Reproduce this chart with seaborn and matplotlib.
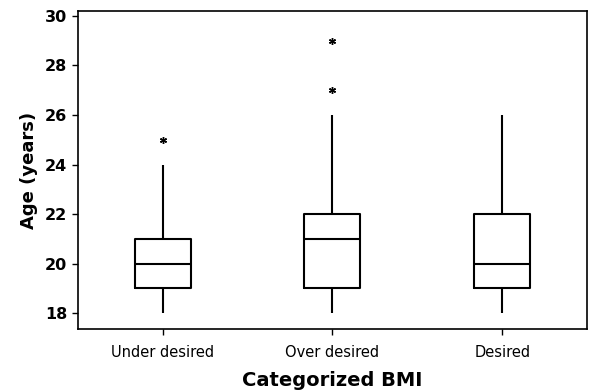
import numpy as np
import pandas as pd
import seaborn as sns
import matplotlib.pyplot as plt

# BMI categories, in plotting order
categories = ["Under desired", "Over desired", "Desired"]

# ages (years) per group
age_under = [18, 19, 19, 19, 19, 19, 20, 20, 20, 20, 20,
             21, 21, 21, 21, 21, 22, 23, 24, 25]
age_over = [18, 19, 19, 19, 19, 19, 19, 20, 20, 20, 21, 21, 21, 21,
            22, 22, 22, 22, 22, 23, 24, 25, 26, 27, 29]
age_desired = [18, 19, 19, 19, 19, 19, 19, 20, 20, 20, 20, 20,
               21, 21, 22, 22, 22, 22, 22, 23, 24, 25, 26]

df = pd.DataFrame({
    "bmi": [categories[0]] * len(age_under)
           + [categories[1]] * len(age_over)
           + [categories[2]] * len(age_desired),
    "age": age_under + age_over + age_desired,
})

sns.set_theme(style="white")
plt.rcParams['font.family'] = ['DejaVu Sans']
plt.rcParams['text.color'] = 'black'
plt.rcParams['axes.labelcolor'] = 'black'
plt.rcParams['xtick.color'] = 'black'
plt.rcParams['ytick.color'] = 'black'

fig, ax = plt.subplots(figsize=(5.9, 3.92), dpi=100)

line = {"color": "black", "linewidth": 1.5}
sns.boxplot(data=df, x="bmi", y="age", order=categories, width=0.33,
            whis=1.5, showcaps=False, fill=False, linecolor="black",
            boxprops=line, whiskerprops=line, medianprops=line,
            flierprops={"marker": (6, 2, 0), "markersize": 5,
                        "markeredgewidth": 1.0,
                        "markerfacecolor": "black", "markeredgecolor": "black"},
            ax=ax)

ax.set_xlim(-0.5, 2.5)
ax.set_ylim(17.35, 30.2)
ax.set_yticks([18, 20, 22, 24, 26, 28, 30])

for s in ax.spines.values():
    s.set_visible(True)
    s.set_color("black")
    s.set_linewidth(1.2)

ax.tick_params(axis="both", direction="out", length=4, width=1, color="black",
               bottom=True, left=True)
ax.tick_params(axis="y", labelsize=11.5)
ax.tick_params(axis="x", labelsize=10.5, pad=7)
for lab in ax.get_yticklabels():
    lab.set_fontweight("bold")

ax.set_xlabel("Categorized BMI", fontsize=14, fontweight="bold", labelpad=8)
ax.set_ylabel("Age (years)", fontsize=13, fontweight="bold", labelpad=5)

fig.subplots_adjust(left=0.132, right=0.995, top=0.972, bottom=0.16)
fig.savefig("out.png")
